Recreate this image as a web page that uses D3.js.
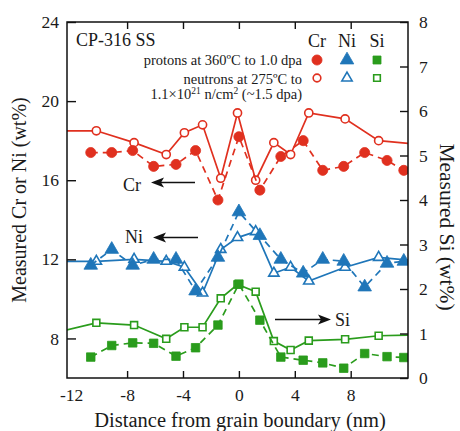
<!DOCTYPE html>
<html>
<head>
<meta charset="utf-8">
<script src="https://cdn.jsdelivr.net/npm/d3@7"></script>
<style>
  body { margin: 0; background: #fff; }
  svg { display: block; }
  text { font-family: "Liberation Serif", "DejaVu Serif", serif; fill: #1a1a1a; }
</style>
</head>
<body>
<svg id="chart" width="460" height="431"></svg>
<script>
// Distance from the grain boundary (nm) for each measurement set
const protonX  = [-10.6, -9.1, -7.6, -6.1, -4.5, -3.1, -1.5, 0.0, 1.5, 3.0, 4.6, 6.0, 7.5, 9.0, 10.6, 11.8];
const neutronX = [-13.0, -10.2, -7.5, -5.2, -3.9, -2.6, -1.3, -0.1, 1.2, 2.5, 3.7, 5.0, 7.6, 10.0, 13.0];

// Proton irradiation, 360ºC to 1.0 dpa (wt%)
const crProton = [17.4, 17.4, 17.5, 16.7, 16.8, 17.5, 15.0, 18.2, 15.5, 17.2, 18.0, 16.5, 16.7, 17.4, 17.0, 16.5];
const niProton = [11.7, 12.5, 11.7, 12.0, 12.0, 10.4, 12.1, 14.4, 13.2, 12.0, 11.3, 12.0, 11.9, 10.6, 11.8, 11.9];
const siProton = [0.47, 0.73, 0.79, 0.78, 0.49, 0.68, 1.19, 2.11, 1.30, 0.47, 0.40, 0.34, 0.22, 0.55, 0.48, 0.46];

// Neutron irradiation, 275ºC to 1.1e21 n/cm2 (wt%)
const crNeutron = [18.5, 18.5, 17.9, 17.3, 18.4, 18.8, 16.1, 19.4, 16.0, 17.9, 17.3, 19.4, 19.1, 18.0, 17.8];
const niNeutron = [11.9, 11.9, 12.0, 11.9, 11.6, 10.3, 12.5, 13.1, 13.4, 11.3, 11.6, 10.9, 11.6, 12.1, 11.9];
const siNeutron = [1.03, 1.24, 1.19, 0.88, 1.14, 1.14, 1.79, 2.10, 1.94, 0.83, 0.63, 0.84, 0.87, 0.95, 0.97];

// Axis ticks
const xTicks = [-12, -8, -4, 0, 4, 8];
const leftTicks = [8, 12, 16, 20, 24];
const rightTicks = [0, 1, 2, 3, 4, 5, 6, 7, 8];

const colors = { Cr: "#e0301f", Ni: "#1f76b9", Si: "#2a9c1c" };

const svg = d3.select("#chart");
const L = 67, R = 408, T = 22, B = 378;

const x = d3.scaleLinear().domain([-12.3, 12.1]).range([L, R]);
const yL = d3.scaleLinear().domain([6, 24]).range([B, T]);
const yR = d3.scaleLinear().domain([0, 8]).range([B, T]);

svg.append("defs").append("clipPath").attr("id", "plotClip")
  .append("rect").attr("x", L).attr("y", T).attr("width", R - L).attr("height", B - T);

const plot = svg.append("g").attr("clip-path", "url(#plotClip)");

function series(xs, ys, yScale, color, dashed, shape, filled) {
  const pts = xs.map((d, i) => [x(d), yScale(ys[i])]);
  plot.append("path")
    .attr("d", d3.line()(pts))
    .attr("fill", "none")
    .attr("stroke", color)
    .attr("stroke-width", 1.7)
    .attr("stroke-dasharray", dashed ? "7,5" : null);
  const sizes = filled
    ? { circle: 80, triangle: 80, square: 72 }
    : { circle: 52, triangle: 46, square: 48 };
  const types = { circle: d3.symbolCircle, triangle: d3.symbolTriangle, square: d3.symbolSquare };
  plot.selectAll(null).data(pts).join("path")
    .attr("transform", d => `translate(${d[0]},${d[1]})`)
    .attr("d", d3.symbol(types[shape], sizes[shape]))
    .attr("fill", filled ? color : "#fff")
    .attr("stroke", color)
    .attr("stroke-width", filled ? 0.8 : 1.6);
}

// Neutron data (solid lines, open markers)
series(neutronX, crNeutron, yL, colors.Cr, false, "circle", false);
series(neutronX, niNeutron, yL, colors.Ni, false, "triangle", false);
series(neutronX, siNeutron, yR, colors.Si, false, "square", false);
// Proton data (dashed lines, filled markers)
series(protonX, crProton, yL, colors.Cr, true, "circle", true);
series(protonX, niProton, yL, colors.Ni, true, "triangle", true);
series(protonX, siProton, yR, colors.Si, true, "square", true);

// Frame
svg.append("rect").attr("x", L).attr("y", T).attr("width", R - L).attr("height", B - T)
  .attr("fill", "none").attr("stroke", "#111").attr("stroke-width", 1.5);

function styleAxis(g, size) {
  g.attr("font-family", null).attr("font-size", null);
  g.select(".domain").remove();
  g.selectAll(".tick line").attr("stroke", "#111").attr("stroke-width", 1.4);
  g.selectAll(".tick text").style("font-size", size + "px").attr("fill", "#1a1a1a");
}

const plain = d => String(d);

const gx = svg.append("g").attr("transform", `translate(0,${B})`)
  .call(d3.axisBottom(x).tickValues(xTicks).tickFormat(plain)
    .tickSizeInner(-7).tickSizeOuter(0).tickPadding(11));
styleAxis(gx, 17.5);
gx.selectAll(".tick").filter(d => d === -12).select("line").remove();

const gxTop = svg.append("g").attr("transform", `translate(0,${T})`)
  .call(d3.axisTop(x).tickValues(xTicks.filter(d => d !== -12)).tickSizeInner(-7).tickSizeOuter(0).tickFormat(""));
styleAxis(gxTop, 17.5);

const gyL = svg.append("g").attr("transform", `translate(${L},0)`)
  .call(d3.axisLeft(yL).tickValues(leftTicks).tickFormat(plain)
    .tickSizeInner(-9).tickSizeOuter(0).tickPadding(8));
styleAxis(gyL, 17.5);

const gyR = svg.append("g").attr("transform", `translate(${R},0)`)
  .call(d3.axisRight(yR).tickValues(rightTicks).tickFormat(plain)
    .tickSizeInner(-8).tickSizeOuter(0).tickPadding(11));
styleAxis(gyR, 17.5);

// Axis titles
svg.append("text").attr("transform", `translate(25.5,${(T + B) / 2}) rotate(-90)`)
  .attr("text-anchor", "middle").style("font-size", "20px").text("Measured Cr or Ni (wt%)");
svg.append("text").attr("transform", `translate(440,227) rotate(90)`)
  .attr("text-anchor", "middle").style("font-size", "21.5px")
  .text("Measured Si (wt%)");
svg.append("text").attr("x", 240).attr("y", 426.5)
  .attr("text-anchor", "middle").style("font-size", "20.5px").text("Distance from grain boundary (nm)");

// Title and legend
svg.append("text").attr("x", 76).attr("y", 46).style("font-size", "18px").text("CP-316 SS");
[["Cr", 317], ["Ni", 347], ["Si", 377]].forEach(([t, cx]) => {
  svg.append("text").attr("x", cx).attr("y", 46.5).attr("text-anchor", "middle")
    .style("font-size", "18px").text(t);
});
svg.append("text").attr("x", 302).attr("y", 64.5).attr("text-anchor", "end")
  .style("font-size", "14.5px").text("protons at 360ºC to 1.0 dpa");
svg.append("text").attr("x", 302).attr("y", 84).attr("text-anchor", "end")
  .style("font-size", "14.5px").text("neutrons at 275ºC to");
const fl = svg.append("text").attr("x", 302).attr("y", 98.5).attr("text-anchor", "end")
  .style("font-size", "14.5px");
fl.append("tspan").text("1.1×10");
fl.append("tspan").attr("dy", -5).style("font-size", "9.5px").text("21");
fl.append("tspan").attr("dy", 5).text(" n/cm");
fl.append("tspan").attr("dy", -5).style("font-size", "9.5px").text("2");
fl.append("tspan").attr("dy", 5).text(" (~1.5 dpa)");

const legendMarks = [
  ["circle", colors.Cr, 317], ["triangle", colors.Ni, 347], ["square", colors.Si, 377]
];
const symTypes = { circle: d3.symbolCircle, triangle: d3.symbolTriangle, square: d3.symbolSquare };
legendMarks.forEach(([shape, color, cx]) => {
  svg.append("path").attr("transform", `translate(${cx},60)`)
    .attr("d", d3.symbol(symTypes[shape], shape === "square" ? 64 : 80))
    .attr("fill", color).attr("stroke", color).attr("stroke-width", 0.8);
  svg.append("path").attr("transform", `translate(${cx},78)`)
    .attr("d", d3.symbol(symTypes[shape], shape === "square" ? 44 : 46))
    .attr("fill", "#fff").attr("stroke", color).attr("stroke-width", 1.6);
});

// Element annotations with arrows
function arrow(x1, x2, y) {
  const dir = x2 < x1 ? 1 : -1;
  svg.append("line").attr("x1", x1).attr("x2", x2 + dir * 8).attr("y1", y).attr("y2", y)
    .attr("stroke", "#111").attr("stroke-width", 1.5);
  svg.append("path")
    .attr("d", `M${x2},${y} L${x2 + dir * 13},${y - 5} L${x2 + dir * 10},${y} L${x2 + dir * 13},${y + 5} Z`)
    .attr("fill", "#111");
}
svg.append("text").attr("x", 123).attr("y", 191).style("font-size", "18px").text("Cr");
arrow(195, 151, 182.5);
svg.append("text").attr("x", 125).attr("y", 242.5).style("font-size", "18px").text("Ni");
arrow(198, 153, 237.5);
svg.append("text").attr("x", 335).attr("y", 326).style("font-size", "18px").text("Si");
arrow(275, 331, 319.5);
</script>
</body>
</html>
